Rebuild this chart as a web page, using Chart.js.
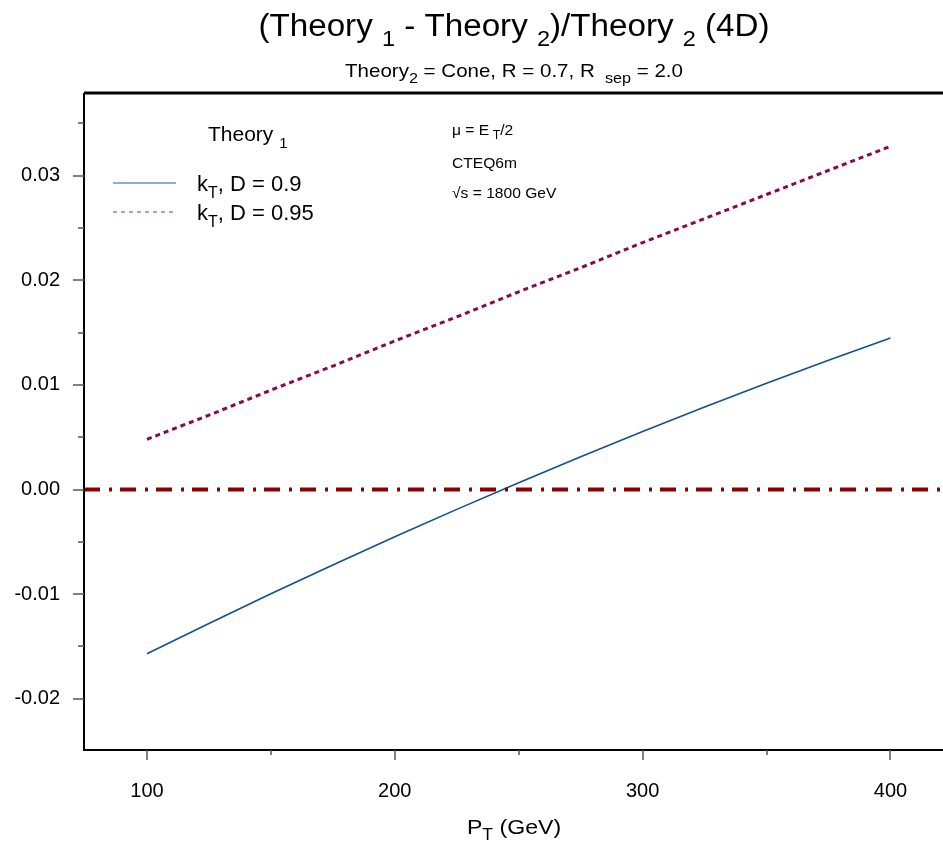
<!DOCTYPE html>
<html>
<head>
<meta charset="utf-8">
<script src="https://cdn.jsdelivr.net/npm/chart.js@4.4.0/dist/chart.umd.min.js"></script>
<style>
  html, body { margin: 0; padding: 0; background: #fff; }
  #wrap { width: 943px; height: 846px; }
</style>
</head>
<body>
<div id="wrap"><canvas id="c"></canvas></div>
<script>
// values
const ptValues = [100, 125, 150, 175, 200, 225, 250, 275, 300, 325, 350, 375, 400];
const ktD090 = [-0.0157, -0.0128, -0.00997, -0.00721, -0.00452, -0.0019, 0.00065, 0.00313, 0.00554, 0.00788, 0.01015, 0.01235, 0.01448];
const ktD095 = [0.0048, 0.0071, 0.0095, 0.0118, 0.0142, 0.0165, 0.0189, 0.0212, 0.0236, 0.0259, 0.0282, 0.0305, 0.0328];
const xRange = [74.6, 421.2];
const yRange = [-0.0249, 0.0379];
const xTicks = [100, 200, 300, 400];
const xMinor = [150, 250, 350];
const yTicks = [-0.02, -0.01, 0, 0.01, 0.02, 0.03];
const yMinor = [-0.015, -0.005, 0.005, 0.015, 0.025, 0.035];
const zeroLine = [0, 0];

const FONT = '"Liberation Sans", Arial, sans-serif';

function pts(xs, ys) { return xs.map((x, i) => ({x: x, y: ys[i]})); }

// draw text made of [text, isSub] parts, stretched sideways by sx
function drawParts(ctx, parts, x, y, size, subSize, subDrop, align, sx) {
  sx = sx || 1;
  let w = 0;
  parts.forEach(p => {
    ctx.font = (p[1] ? subSize : size) + 'px ' + FONT;
    w += ctx.measureText(p[0]).width;
  });
  w *= sx;
  let cx = align === 'center' ? x - w / 2 : x;
  ctx.textAlign = 'left';
  ctx.textBaseline = 'alphabetic';
  parts.forEach(p => {
    ctx.font = (p[1] ? subSize : size) + 'px ' + FONT;
    ctx.save();
    ctx.translate(cx, p[1] ? y + subDrop : y);
    ctx.scale(sx, 1);
    ctx.fillText(p[0], 0, 0);
    ctx.restore();
    cx += ctx.measureText(p[0]).width * sx;
  });
}

const decor = {
  id: 'decor',
  afterDraw(chart) {
    const ctx = chart.ctx;
    const a = chart.chartArea;
    const xs = chart.scales.x, ys = chart.scales.y;
    ctx.save();
    ctx.fillStyle = '#000';

    // frame: left, bottom, thick top, no right side
    ctx.strokeStyle = '#000';
    ctx.lineWidth = 2;
    ctx.beginPath();
    ctx.moveTo(a.left, a.top); ctx.lineTo(a.left, a.bottom); ctx.lineTo(chart.width, a.bottom);
    ctx.stroke();
    ctx.lineWidth = 3;
    ctx.beginPath();
    ctx.moveTo(a.left, a.top); ctx.lineTo(chart.width, a.top);
    ctx.stroke();

    // tick marks
    ctx.strokeStyle = '#555';
    ctx.lineWidth = 1.5;
    ctx.beginPath();
    yTicks.forEach(v => { const p = Math.round(ys.getPixelForValue(v)); ctx.moveTo(a.left - 11, p); ctx.lineTo(a.left, p); });
    yMinor.forEach(v => { const p = Math.round(ys.getPixelForValue(v)); ctx.moveTo(a.left - 6, p); ctx.lineTo(a.left, p); });
    xTicks.forEach(v => { const p = Math.round(xs.getPixelForValue(v)); ctx.moveTo(p, a.bottom); ctx.lineTo(p, a.bottom + 10); });
    xMinor.forEach(v => { const p = Math.round(xs.getPixelForValue(v)); ctx.moveTo(p, a.bottom); ctx.lineTo(p, a.bottom + 5); });
    ctx.stroke();

    // titles
    drawParts(ctx, [['(Theory ', 0], ['1', 1], [' - Theory ', 0], ['2', 1], [')/Theory ', 0], ['2', 1], [' (4D)', 0]],
      514, 36, 31, 22, 10, 'center', 1.07);
    drawParts(ctx, [['Theory', 0], ['2', 1], [' = Cone, R = 0.7, R ', 0], [' sep', 1], [' = 2.0', 0]],
      514, 77, 19, 15, 6, 'center', 1.08);
    drawParts(ctx, [['P', 0], ['T', 1], [' (GeV)', 0]], 514, 834, 21, 16, 6, 'center', 1.1);

    // legend
    drawParts(ctx, [['Theory ', 0], ['1', 1]], 208, 141, 21, 15, 7, 'left');
    ctx.lineWidth = 1.2;
    ctx.setLineDash([]);
    ctx.strokeStyle = '#2b5c94';
    ctx.beginPath(); ctx.moveTo(113, 183); ctx.lineTo(176, 183); ctx.stroke();
    ctx.strokeStyle = '#b0507e';
    ctx.setLineDash([4, 4]);
    ctx.beginPath(); ctx.moveTo(113, 212); ctx.lineTo(176, 212); ctx.stroke();
    ctx.setLineDash([]);
    drawParts(ctx, [['k', 0], ['T', 1], [', D = 0.9', 0]], 197, 191, 22, 16, 7, 'left');
    drawParts(ctx, [['k', 0], ['T', 1], [', D = 0.95', 0]], 197, 220, 22, 16, 7, 'left');

    // annotations
    drawParts(ctx, [['\u03bc = E', 0], [' T', 1], ['/2', 0]], 452, 135, 15, 12, 4, 'left', 1.04);
    drawParts(ctx, [['CTEQ6m', 0]], 452, 168, 15, 12, 4, 'left', 1.04);
    drawParts(ctx, [['\u221as = 1800 GeV', 0]], 452, 198, 15, 12, 4, 'left', 1.04);
    ctx.restore();
  }
};

new Chart(document.getElementById('c'), {
  type: 'scatter',
  data: {
    datasets: [
      {
        label: 'zero',
        data: pts(xRange, zeroLine),
        showLine: true,
        borderColor: '#8b0000',
        borderWidth: 4,
        borderDash: [16, 9, 3, 8],
        pointRadius: 0
      },
      {
        label: 'kT, D = 0.9',
        data: pts(ptValues, ktD090),
        showLine: true,
        borderColor: '#13508f',
        borderWidth: 1.6,
        pointRadius: 0
      },
      {
        label: 'kT, D = 0.95',
        data: pts(ptValues, ktD095),
        showLine: true,
        borderColor: '#870a4c',
        borderWidth: 3,
        borderDash: [5, 4],
        pointRadius: 0
      }
    ]
  },
  options: {
    responsive: true,
    maintainAspectRatio: false,
    animation: false,
    layout: { padding: { top: 93, right: 0, left: 0, bottom: 0 } },
    plugins: { legend: { display: false }, tooltip: { enabled: false } },
    scales: {
      x: {
        type: 'linear',
        min: xRange[0], max: xRange[1],
        grid: { display: false, drawTicks: false },
        border: { display: false },
        afterBuildTicks: s => { s.ticks = xTicks.map(v => ({value: v})); },
        afterFit: s => { s.height = 96; },
        ticks: { color: '#000', font: { family: FONT, size: 20 }, padding: 29, maxRotation: 0, autoSkip: false,
          callback: v => String(v) }
      },
      y: {
        type: 'linear',
        min: yRange[0], max: yRange[1],
        grid: { display: false, drawTicks: false },
        border: { display: false },
        afterBuildTicks: s => { s.ticks = yTicks.map(v => ({value: v})); },
        afterFit: s => { s.width = 84; },
        ticks: { color: '#000', font: { family: FONT, size: 20 }, padding: 24, autoSkip: false,
          callback: v => v.toFixed(2) }
      }
    }
  },
  plugins: [decor]
});
</script>
</body>
</html>
